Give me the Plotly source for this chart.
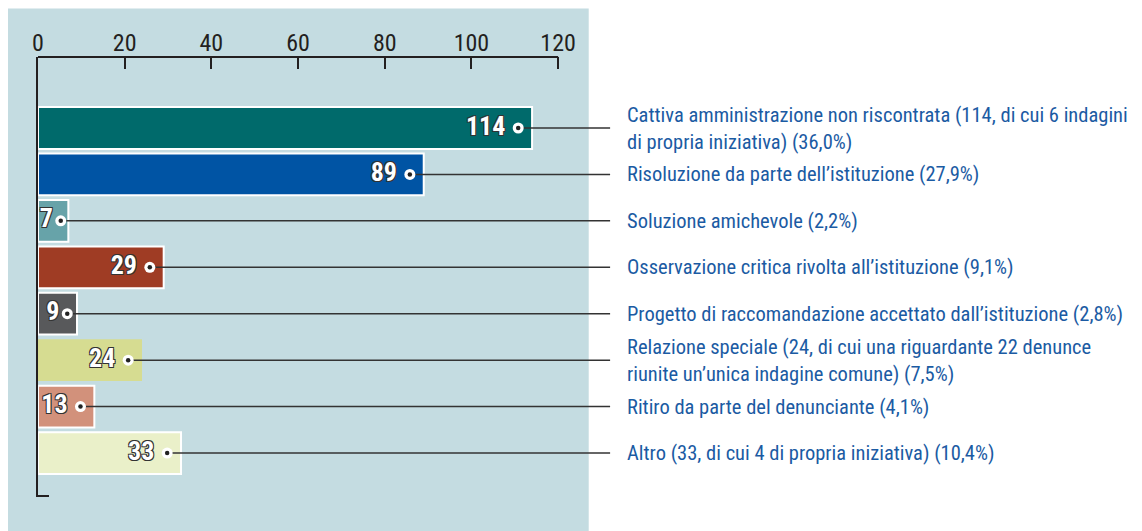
import numpy as np
import plotly.graph_objects as go

# Esito delle indagini chiuse
categories = [
    "Cattiva amministrazione non riscontrata (114, di cui 6 indagini<br>di propria iniziativa) (36,0%)",
    "Risoluzione da parte dell’istituzione (27,9%)",
    "Soluzione amichevole (2,2%)",
    "Osservazione critica rivolta all’istituzione (9,1%)",
    "Progetto di raccomandazione accettato dall’istituzione (2,8%)",
    "Relazione speciale (24, di cui una riguardante 22 denunce<br>riunite un’unica indagine comune) (7,5%)",
    "Ritiro da parte del denunciante (4,1%)",
    "Altro (33, di cui 4 di propria iniziativa) (10,4%)",
]
values = [114, 89, 7, 29, 9, 24, 13, 33]
colors = ["#006a6b", "#0054a4", "#67a3a9", "#9f3c24",
          "#58595b", "#d6dc91", "#d2917b", "#eaf0c9"]
tick_vals = [0, 20, 40, 60, 80, 100, 120]

PANEL = "#c4dce1"
INK = "#231f20"
LABEL_BLUE = "#1b5ba3"
NARROW = "Liberation Sans Narrow, Roboto Condensed, DejaVu Sans Condensed, sans-serif"

vals = np.array(values, dtype=float)
ypos = np.arange(len(values))
dot_x = vals - np.minimum(3.2, 0.25 * vals)
leader_end = 132

fig = go.Figure()

# bars
fig.add_trace(go.Bar(
    x=vals, y=ypos, orientation="h", width=0.9,
    marker=dict(color=colors,
                line=dict(color="white", width=[2, 2, 2, 2, 2, 0, 2, 2])),
    hoverinfo="skip", showlegend=False,
))

# leader lines from the dot to the label
lx, ly = [], []
for x0, y0 in zip(dot_x, ypos):
    lx += [x0, leader_end, None]
    ly += [y0, y0, None]
fig.add_trace(go.Scatter(
    x=lx, y=ly, mode="lines",
    line=dict(color="#333333", width=1.5),
    hoverinfo="skip", showlegend=False,
))

# white dot with value label
fig.add_trace(go.Scatter(
    x=dot_x, y=ypos, mode="markers+text",
    marker=dict(color="white", size=11, line=dict(width=0)),
    text=[f"{v}\u2009" if v >= 10 else str(v) for v in values],
    textposition="middle left",
    textfont=dict(family=NARROW, size=26, color="white", weight="bold",
                  shadow="-1px -1px 0 #333, 1px -1px 0 #333, -1px 1px 0 #333, 1px 1px 0 #333"),
    cliponaxis=False, hoverinfo="skip", showlegend=False,
))
fig.add_trace(go.Scatter(
    x=dot_x, y=ypos, mode="markers",
    marker=dict(color="#222222", size=4.5),
    cliponaxis=False, hoverinfo="skip", showlegend=False,
))

# category labels
for y0, label in zip(ypos, categories):
    fig.add_annotation(
        x=135.5, y=y0, xref="x", yref="y", text=label, showarrow=False,
        xanchor="left", yanchor="middle", align="left",
        font=dict(family=NARROW, size=20.5, color=LABEL_BLUE),
    )

# light panel behind the chart
fig.add_shape(type="rect", xref="paper", yref="paper",
              x0=-0.06, x1=0.935, y0=-0.1, y1=1.11,
              fillcolor=PANEL, line=dict(width=0), layer="below")
# top axis line, only across 0-120
fig.add_shape(type="line", xref="x", yref="paper", x0=0, x1=120, y0=1, y1=1,
              line=dict(color=INK, width=2))

# page body has an 8px margin, so the figure is shifted accordingly
fig.update_layout(
    width=1134, height=523,
    margin=dict(l=30, r=515, t=49, b=34),
    paper_bgcolor="white", plot_bgcolor="rgba(0,0,0,0)",
    xaxis=dict(
        range=[0, 135.9], side="top", tickvals=tick_vals,
        ticks="inside", ticklen=12, tickwidth=2, tickcolor=INK,
        tickfont=dict(family=NARROW, size=24, color=INK),
        showgrid=False, zeroline=False, showline=False, fixedrange=True,
    ),
    yaxis=dict(
        range=[7.947, -1.529], showline=True, linecolor=INK, linewidth=2,
        tickvals=[7.92], ticktext=[""], ticks="inside", ticklen=11,
        tickwidth=2, tickcolor=INK,
        showgrid=False, zeroline=False, fixedrange=True,
    ),
)

fig.write_html("out.html")
